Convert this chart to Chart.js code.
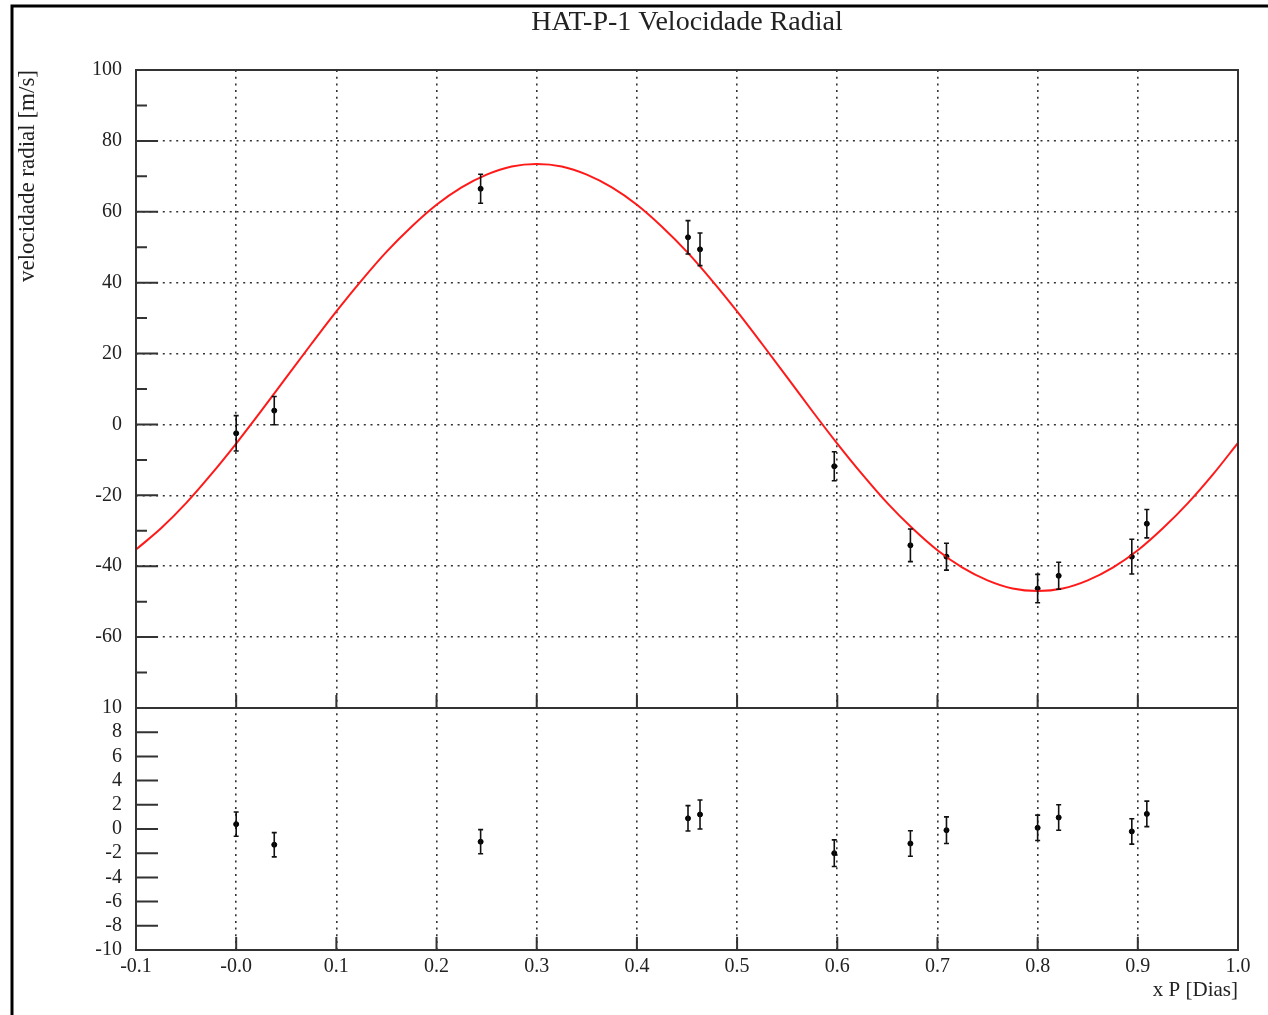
<!DOCTYPE html>
<html>
<head>
<meta charset="utf-8">
<title>HAT-P-1 Velocidade Radial</title>
<script src="https://cdn.jsdelivr.net/npm/chart.js@4.4.1/dist/chart.umd.min.js"></script>
<style>
  html, body { margin:0; padding:0; background:#fff; }
  #wrap { width:1268px; height:1015px; position:relative; }
</style>
</head>
<body>
<div id="wrap"><canvas id="rv" width="1268" height="1015"></canvas></div>
<script>
// phase (x P) of each measurement
const phase = [0.0, 0.038, 0.244, 0.451, 0.463, 0.597, 0.673, 0.709, 0.800, 0.821, 0.894, 0.909];
// radial velocity [m/s] and its error
const velocity = [-2.5, 3.9, 66.5, 52.8, 49.4, -11.8, -34.1, -37.3, -46.3, -42.7, -37.3, -28.0];
const velocityErr = [5.0, 4.0, 4.1, 4.7, 4.6, 4.1, 4.6, 3.8, 4.0, 3.8, 4.9, 4.0];
// residuals (lower panel)
const residual = [0.4, -1.3, -1.05, 0.88, 1.2, -2.0, -1.2, -0.1, 0.1, 0.95, -0.2, 1.25];
const residualErr = [1.0, 1.0, 1.0, 1.05, 1.2, 1.1, 1.05, 1.1, 1.05, 1.05, 1.05, 1.05];
// fitted curve
const curveX = [-0.1, -0.075, -0.05, -0.025, 0.0, 0.025, 0.05, 0.075, 0.1, 0.125, 0.15, 0.175,
                0.2, 0.225, 0.25, 0.275, 0.3, 0.325, 0.35, 0.375, 0.4, 0.425, 0.45, 0.475,
                0.5, 0.525, 0.55, 0.575, 0.6, 0.625, 0.65, 0.675, 0.7, 0.725, 0.75, 0.775,
                0.8, 0.825, 0.85, 0.875, 0.9, 0.925, 0.95, 0.975, 1.0];
const curveY = [-35.3, -29.3, -22.2, -14.1, -5.4, 3.8, 13.3, 22.7, 31.9, 40.6, 48.7, 55.8,
                62.0, 66.9, 70.5, 72.8, 73.5, 72.8, 70.5, 66.9, 62.0, 55.8, 48.7, 40.6,
                31.9, 22.7, 13.3, 3.8, -5.4, -14.1, -22.2, -29.3, -35.5, -40.4, -44.0, -46.3,
                -47.0, -46.3, -44.0, -40.4, -35.5, -29.3, -22.2, -14.1, -5.2];
// tick labels
const xTickLabel = v => Math.abs(v) < 1e-9 ? '-0.0' : v.toFixed(1);

const serif = "'Liberation Serif', 'DejaVu Serif', serif";
const ink = '#222';
const frameColor = '#333';

const pts = (xs, ys) => xs.map((x, i) => ({x, y: ys[i]}));

const errorBars = {
  id: 'errorBars',
  afterDatasetsDraw(chart) {
    const ctx = chart.ctx;
    chart.data.datasets.forEach(ds => {
      if (!ds.errors) return;
      const xs = chart.scales.x, ys = chart.scales[ds.yAxisID];
      ctx.save();
      ctx.strokeStyle = '#111';
      ctx.lineWidth = 1.6;
      ds.data.forEach((p, i) => {
        const px = xs.getPixelForValue(p.x);
        const y1 = ys.getPixelForValue(p.y + ds.errors[i]);
        const y2 = ys.getPixelForValue(p.y - ds.errors[i]);
        ctx.beginPath();
        ctx.moveTo(px, y1); ctx.lineTo(px, y2);
        ctx.moveTo(px - 2.5, y1); ctx.lineTo(px + 2.5, y1);
        ctx.moveTo(px - 2.5, y2); ctx.lineTo(px + 2.5, y2);
        ctx.stroke();
      });
      ctx.restore();
    });
  }
};

const frames = {
  id: 'frames',
  afterDraw(chart) {
    const ctx = chart.ctx;
    const xs = chart.scales.x, yt = chart.scales.y, yb = chart.scales.yRes;
    const L = xs.left, R = xs.right;
    ctx.save();
    ctx.strokeStyle = frameColor;
    ctx.lineWidth = 2;
    // panel frames
    ctx.strokeRect(L, yt.top, R - L, yt.bottom - yt.top);
    ctx.strokeRect(L, yb.top, R - L, yb.bottom - yb.top);
    ctx.beginPath();
    // left ticks, upper panel: major every 20, minor every 10
    for (let v = -80; v <= 100; v += 10) {
      const py = yt.getPixelForValue(v);
      ctx.moveTo(L, py); ctx.lineTo(L + (v % 20 === 0 ? 22 : 11), py);
    }
    // left ticks, lower panel
    yb.ticks.forEach(t => {
      const py = yb.getPixelForValue(t.value);
      ctx.moveTo(L, py); ctx.lineTo(L + 22, py);
    });
    // x ticks on the bottom of both panels
    xs.ticks.forEach(t => {
      const px = xs.getPixelForValue(t.value);
      ctx.moveTo(px, yt.bottom); ctx.lineTo(px, yt.bottom - 13);
      ctx.moveTo(px, yb.bottom); ctx.lineTo(px, yb.bottom - 13);
    });
    ctx.stroke();
    // outer border of the picture
    ctx.strokeStyle = '#000';
    ctx.lineWidth = 3;
    ctx.beginPath();
    ctx.moveTo(12, 1015); ctx.lineTo(12, 6); ctx.lineTo(1268, 6);
    ctx.stroke();
    ctx.restore();
  }
};

const dotted = { color: '#333', lineWidth: 1.6 };

new Chart(document.getElementById('rv'), {
  type: 'scatter',
  data: {
    datasets: [
      {
        type: 'line', label: 'ajuste', data: pts(curveX, curveY), yAxisID: 'y',
        borderColor: '#ff1a1a', borderWidth: 2, pointRadius: 0,
        cubicInterpolationMode: 'monotone', fill: false
      },
      {
        label: 'velocidade', data: pts(phase, velocity), errors: velocityErr, yAxisID: 'y',
        pointRadius: 2.5, pointBackgroundColor: '#000', pointBorderColor: '#000'
      },
      {
        label: 'residuo', data: pts(phase, residual), errors: residualErr, yAxisID: 'yRes',
        pointRadius: 2.5, pointBackgroundColor: '#000', pointBorderColor: '#000'
      }
    ]
  },
  options: {
    responsive: false,
    animation: false,
    layout: { padding: { left: 14, right: 30, top: 0, bottom: 0 } },
    plugins: {
      legend: { display: false },
      tooltip: { enabled: false },
      title: {
        display: true,
        fullSize: false,
        text: 'HAT-P-1 Velocidade Radial',
        color: ink,
        font: { family: serif, size: 28, weight: 'normal' },
        padding: { top: 6, bottom: 30.4 }
      }
    },
    scales: {
      x: {
        type: 'linear', min: -0.1, max: 1.0,
        afterFit: s => { s.height = 65; },
        ticks: {
          stepSize: 0.1, autoSkip: false, maxRotation: 0, padding: 5,
          color: ink, font: { family: serif, size: 20 },
          callback: xTickLabel
        },
        grid: { ...dotted, drawTicks: false },
        border: { display: false, dash: [2, 4.7] },
        title: {
          display: true, text: 'x P [Dias]', align: 'end', color: ink,
          font: { family: serif, size: 21 }, padding: { top: 0, bottom: 12 }
        }
      },
      yRes: {
        type: 'linear', position: 'left', stack: 'rv', stackWeight: 242,
        min: -10, max: 10,
        afterFit: s => { s.width = 122; },
        ticks: {
          stepSize: 2, autoSkip: false, padding: 14,
          color: ink, font: { family: serif, size: 20 }
        },
        grid: { display: false, drawTicks: false },
        border: { display: false }
      },
      y: {
        type: 'linear', position: 'left', stack: 'rv', stackWeight: 638,
        min: -80, max: 100,
        afterFit: s => { s.width = 122; },
        ticks: {
          stepSize: 20, autoSkip: false, padding: 14,
          color: ink, font: { family: serif, size: 20 },
          callback: v => v === -80 ? '' : String(v)
        },
        grid: { ...dotted, drawTicks: false },
        border: { display: false, dash: [2, 4.7] },
        title: {
          display: true, text: 'velocidade radial [m/s]', align: 'end', color: ink,
          font: { family: serif, size: 23 }, padding: { top: 0, bottom: 0 }
        }
      }
    }
  },
  plugins: [errorBars, frames]
});
</script>
</body>
</html>
